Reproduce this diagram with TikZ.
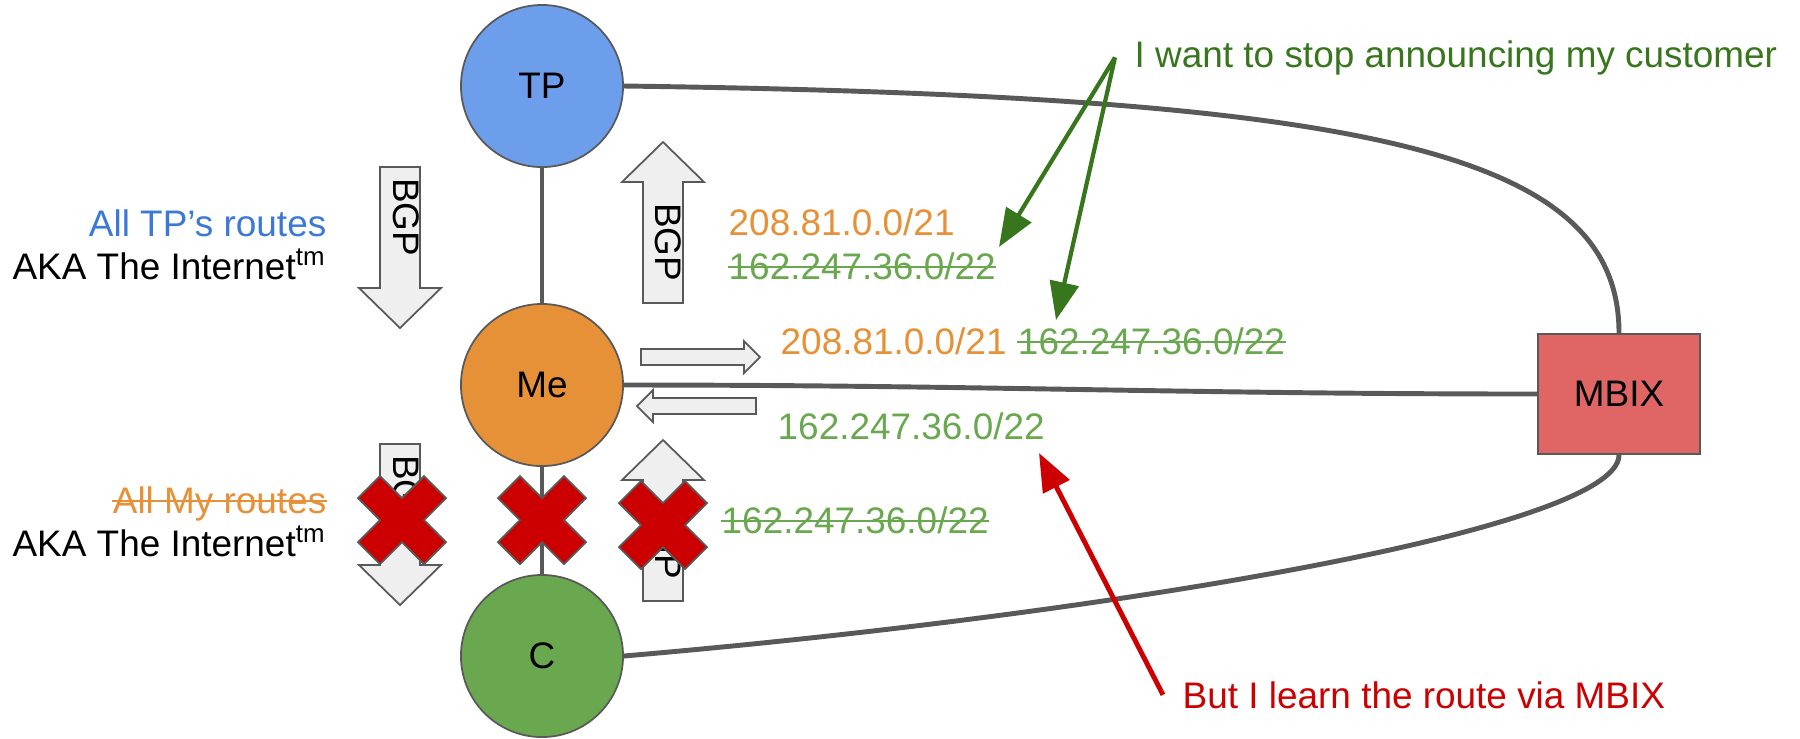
\documentclass[tikz,border=0pt]{standalone}
\usepackage{fontspec}
\setmainfont{Liberation Sans}
\usetikzlibrary{arrows.meta}

\definecolor{tpblue}{HTML}{6D9EEB}
\definecolor{tptext}{HTML}{3C78D8}
\definecolor{meorange}{HTML}{E69138}
\definecolor{cgreen}{HTML}{6AA84F}
\definecolor{darkgreen}{HTML}{38761D}
\definecolor{mbixred}{HTML}{E06666}
\definecolor{nogored}{HTML}{CC0000}
\definecolor{edgegray}{HTML}{595959}
\definecolor{arrowfill}{HTML}{EFEFEF}

\begin{document}
\begin{tikzpicture}[x=0.01cm, y=-0.01cm,
  >={Triangle[length=0.38cm, width=0.29cm]},
  font=\fontsize{10.5}{12.6}\selectfont,
  peer/.style={circle, draw=edgegray, line width=0.5pt, minimum size=1.62cm, inner sep=0pt},
  link/.style={draw=edgegray, line width=1.4pt},
  bgparrow/.style={draw=edgegray, fill=arrowfill, line width=0.5pt},
  bgp/.style={rotate=-90, inner sep=0pt},
  nogo/.style={draw=edgegray, fill=nogored, line width=0.5pt},
  note/.style={inner sep=0pt},
  strike/.style={line width=0.6pt},
  callout/.style={inner xsep=0.19cm, inner ysep=0pt, anchor=base west}
 ]
 \useasboundingbox (0,0) rectangle (1800,738);

 \node [peer, fill=tpblue] (TP) at (542,86) {TP};
 \node [peer, fill=meorange] (Me) at (542,385) {Me};
 \node [peer, fill=cgreen] (C) at (542,656) {C};
 \node [draw=edgegray, line width=0.5pt, fill=mbixred, minimum width=1.62cm, minimum height=1.2cm] (MBIX) at (1619,394) {MBIX};

 \draw [link] (TP) -- (Me);
 \draw [link] (Me) -- (C);
 \draw [link] (TP.east) .. controls +(750,10) and +(0,-180) .. (MBIX.north);
 \draw [link] (Me.east) to [out=0, in=180] (MBIX.west);
 \draw [link] (C.east) .. controls +(477,-41) and +(0,75) .. (MBIX.south);

 % BGP sessions
 \foreach \x/\y/\d in {400/167/1, 663/303/-1, 400/444/1, 663/601/-1}
  \draw [bgparrow] ({\x-20},\y) -- ({\x+20},\y) -- ({\x+20},{\y+121*\d}) -- ({\x+41},{\y+121*\d})
   -- (\x,{\y+161*\d}) -- ({\x-41},{\y+121*\d}) -- ({\x-20},{\y+121*\d}) -- cycle;
 \foreach \x/\y/\d in {641/357/1, 756/406/-1}
  \draw [bgparrow] (\x,{\y-8}) -- ({\x+103*\d},{\y-8}) -- ({\x+103*\d},{\y-16}) -- ({\x+119*\d},\y)
   -- ({\x+103*\d},{\y+16}) -- ({\x+103*\d},{\y+8}) -- (\x,{\y+8}) -- cycle;
 \node [bgp] (bgpin) at (406,217) {BGP};
 \node [bgp] (bgpout) at (668,242) {BGP};
 \node [bgp] (bgpdown) at (406,494) {BGP};
 \node [bgp] (bgpup) at (668,540) {BGP};

 % routes
 \node [note, anchor=base east, text=tptext] (tproutes) at (327,236) {All TP’s routes};
 \node [note, anchor=base east] (aka1) at (327,279) {AKA The Internet\textsuperscript{tm}};
 \node [note, anchor=base east, text=meorange] (myroutes) at (327,513) {All My routes};
 \node [note, anchor=base east] (aka2) at (327,556) {AKA The Internet\textsuperscript{tm}};
 \node [note, anchor=base west, text=meorange] (toTP) at (728,235) {208.81.0.0/21};
 \node [note, anchor=base west, text=cgreen] (toTPx) at (728,279) {162.247.36.0/22};
 \node [note, anchor=base west, text=meorange] (toMBIX) at (780,354) {208.81.0.0/21};
 \node [note, anchor=base west, text=cgreen] (toMBIXx) at ([xshift=0.1cm]toMBIX.base east) {162.247.36.0/22};
 \node [note, anchor=base west, text=cgreen] (fromMBIX) at (777,439) {162.247.36.0/22};
 \node [note, anchor=base west, text=cgreen] (toC) at (721,533) {162.247.36.0/22};
 \draw [strike, meorange] ([yshift=3.3pt]myroutes.base west) -- ([yshift=3.3pt]myroutes.base east);
 \foreach \n in {toTPx, toMBIXx, toC}
  \draw [strike, cgreen] ([yshift=3.3pt]\n.base west) -- ([yshift=3.3pt]\n.base east);

 % no more sessions with C
 \foreach \x/\y in {402/520, 542/520, 663/525}
  \draw [nogo, shift={(\x,\y)}] (-44,-22) -- (-22,-44) -- (0,-22) -- (22,-44) -- (44,-22) -- (22,0)
   -- (44,22) -- (22,44) -- (0,22) -- (-22,44) -- (-44,22) -- (-22,0) -- cycle;

 % callouts
 \node [callout, text=darkgreen] (want) at (1115,67) {I want to stop announcing my customer};
 \coordinate (wantA) at (999,247);
 \coordinate (wantB) at (1056,320);
 \draw [->, darkgreen, line width=1.2pt] (want.west) -- (wantA);
 \draw [->, darkgreen, line width=1.2pt] (want.west) -- (wantB);

 \node [callout, text=nogored] (learn) at (1163,708) {But I learn the route via MBIX};
 \coordinate (learnTip) at (1039,453);
 \draw [->, nogored, line width=1.4pt] (learn.west) -- (learnTip);
\end{tikzpicture}
\end{document}
